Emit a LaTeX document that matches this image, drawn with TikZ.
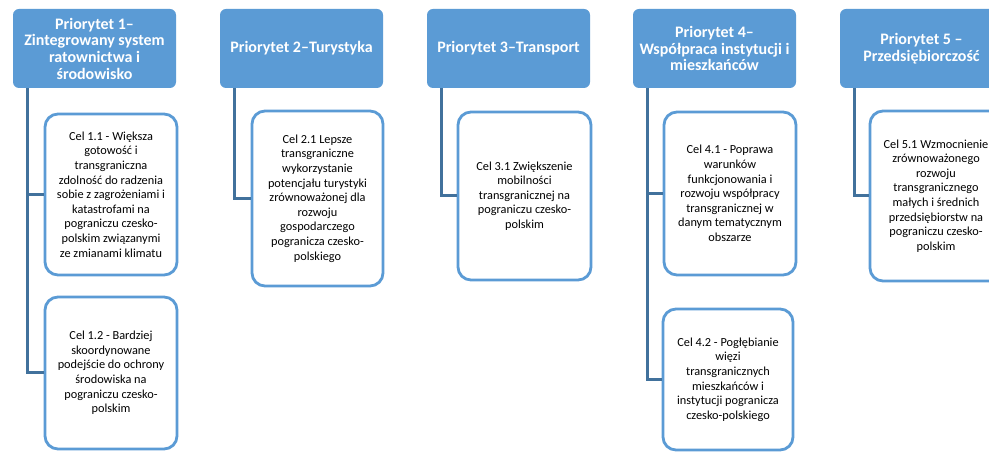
\documentclass[tikz,border=0pt]{standalone}
\usepackage{fontspec}
\setmainfont{Carlito}
\definecolor{hdrblue}{HTML}{5B9BD5}
\definecolor{boxblue}{HTML}{5B9BD5}
\definecolor{lineblue}{HTML}{41719C}
\tikzset{
  hdr/.style={draw=none, fill=hdrblue, rounded corners=6pt, text=white,
    font=\fontsize{16}{16.7}\selectfont\bfseries, align=center,
    minimum width=163pt, minimum height=79pt, inner sep=0pt},
  goal/.style={draw=boxblue, line width=2.8pt, fill=white, rounded corners=13pt,
    font=\fontsize{12.3}{14.6}\selectfont, align=center, inner sep=0pt},
  conn/.style={draw=lineblue, line width=3pt}
}
\begin{document}
\begin{tikzpicture}[x=1pt,y=-1pt]
\useasboundingbox (0,0) rectangle (989,454);
\clip (0,0) rectangle (989,454);
\fill[white] (0,0) rectangle (989,454);
% headers
\node[hdr] (h1) at (94.5,48.5) {Priorytet 1--\\Zintegrowany system\\ratownictwa i\\środowisko};
\node[hdr] (h2) at (301.5,48.5) {Priorytet 2--Turystyka};
\node[hdr] (h3) at (508.5,48.5) {Priorytet 3--Transport};
\node[hdr] (h4) at (714.5,48.5) {Priorytet 4--\\Współpraca instytucji i\\mieszkańców};
\node[hdr] (h5) at (921.5,48.5) {Priorytet 5 --\\Przedsiębiorczość};
% goals
\node[goal, minimum width=132pt, minimum height=161pt] (c11) at (111,194.5)
 {Cel 1.1 - Większa\\gotowość i\\transgraniczna\\zdolność do radzenia\\sobie z zagrożeniami i\\katastrofami na\\pograniczu czesko-\\polskim związanymi\\ze zmianami klimatu};
\node[goal, minimum width=132pt, minimum height=152pt] (c12) at (111,373)
 {Cel 1.2 - Bardziej\\skoordynowane\\podejście do ochrony\\środowiska na\\pograniczu czesko-\\polskim};
\node[goal, minimum width=131pt, minimum height=175pt] (c21) at (317.5,198.5)
 {Cel 2.1 Lepsze\\transgraniczne\\wykorzystanie\\potencjału turystyki\\zrównoważonej dla\\rozwoju\\gospodarczego\\pogranicza czesko-\\polskiego};
\node[goal, minimum width=133pt, minimum height=168pt] (c31) at (524.5,196)
 {Cel 3.1 Zwiększenie\\mobilności\\transgranicznej na\\pograniczu czesko-\\polskim};
\node[goal, minimum width=132pt, minimum height=163pt] (c41) at (730,193.5)
 {Cel 4.1 - Poprawa\\warunków\\funkcjonowania i\\rozwoju współpracy\\transgranicznej w\\danym tematycznym\\obszarze};
\node[goal, minimum width=130pt, minimum height=141pt] (c42) at (728,379.5)
 {Cel 4.2 - Pogłębianie\\więzi\\transgranicznych\\mieszkańców i\\instytucji pogranicza\\czesko-polskiego};
\node[goal, minimum width=132pt, minimum height=170pt] (c51) at (936,196)
 {Cel 5.1 Wzmocnienie\\zrównoważonego\\rozwoju\\transgranicznego\\małych i średnich\\przedsiębiorstw na\\pograniczu czesko-\\polskim};
% connectors
\draw[conn] ([xshift=15pt]h1.south west) |- (c11.west);
\draw[conn] ([xshift=15pt]h1.south west) |- (c12.west);
\draw[conn] ([xshift=15pt]h2.south west) |- (c21.west);
\draw[conn] ([xshift=15pt]h3.south west) |- (c31.west);
\draw[conn] ([xshift=15pt]h4.south west) |- (c41.west);
\draw[conn] ([xshift=15pt]h4.south west) |- (c42.west);
\draw[conn] ([xshift=15pt]h5.south west) |- (c51.west);
\end{tikzpicture}
\end{document}
